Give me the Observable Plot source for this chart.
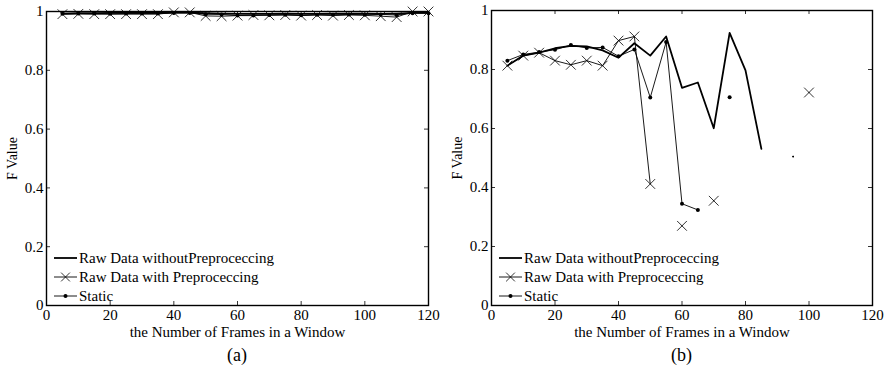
<!DOCTYPE html>
<html><head><meta charset="utf-8">
<script src="https://cdn.jsdelivr.net/npm/d3@7"></script>
<script src="https://cdn.jsdelivr.net/npm/@observablehq/plot@0.6"></script>
<style>
body{margin:0;background:#fff;font-family:"Liberation Serif","Times New Roman",serif;color:#000;}
#wrap{display:flex;width:887px;height:376px;}
.panel{display:flex;flex-direction:column;}
.cap{text-align:center;font-size:18px;line-height:30px;height:30px;}
svg text{font-family:"Liberation Serif","Times New Roman",serif;}
</style></head><body><div id="wrap"></div><script>
const frames = [5,10,15,20,25,30,35,40,45,50,55,60,65,70,75,80,85,90,95,100,105,110,115,120];
const xTicks = [0,20,40,60,80,100,120];
const yTicks = [0,0.2,0.4,0.6,0.8,1];
const xLabel = "the Number of Frames in a Window";
const yLabel = "F Value";
const seriesNames = ["Raw Data withoutPreproceccing","Raw Data with Preproceccing","Static"];

// panel (a)
const aRaw  = [0.993,0.994,0.994,0.995,0.995,0.995,0.995,0.996,0.996,0.994,0.993,0.992,0.992,0.992,0.993,0.992,0.992,0.993,0.993,0.993,0.992,0.993,0.995,0.995];
const aPre  = [0.991,0.992,0.991,0.991,0.991,0.991,0.991,0.997,0.997,0.985,0.984,0.986,0.988,0.987,0.988,0.986,0.988,0.986,0.988,0.987,0.984,0.981,1.0,1.0];
const aStat = [0.992,0.993,0.993,0.992,0.993,0.993,0.993,0.995,0.995,0.991,0.990,0.986,0.986,0.988,0.989,0.987,0.989,0.989,0.990,0.989,0.990,0.988,0.994,0.994];

// panel (b)
const bRaw  = [0.813,0.847,0.857,0.872,0.880,0.878,0.865,0.840,0.889,0.847,0.912,0.738,0.756,0.601,0.924,0.797,0.531,null,0.505,null,null,null,null,null];
const bPre  = [0.813,0.847,0.857,0.830,0.816,0.830,0.813,0.898,0.912,0.412,null,0.270,null,0.355,null,null,null,null,null,0.722,null,null,null,null];
const bStat = [0.830,0.851,0.859,0.867,0.883,0.873,0.875,0.845,0.868,0.705,0.893,0.345,0.324,null,0.706,null,null,null,null,null,null,null,null,null];

function panel(raw, pre, stat, width, marginLeft, marginTop, caption) {
  const height = 340, marginRight = 15, marginBottom = 35;
  const iw = width - marginLeft - marginRight, ih = height - marginTop - marginBottom;
  const rows = frames.map((f, i) => ({f, raw: raw[i], pre: pre[i], stat: stat[i]}));
  const lone = rows.filter((d, i) => d.raw != null && (i === 0 || rows[i-1].raw == null) && (i === rows.length-1 || rows[i+1].raw == null));
  const t = 4;
  const plot = Plot.plot({
    width, height, marginLeft, marginRight, marginTop, marginBottom,
    style: {fontFamily: "'Liberation Serif', 'Times New Roman', serif", fontSize: "15px", color: "#000", background: "#fff", overflow: "visible"},
    x: {domain: [0, 120]},
    y: {domain: [0, 1]},
    marks: [
      Plot.ruleX(xTicks, {x: d => d, insetTop: ih - t, stroke: "#000", strokeWidth: 0.8}),
      Plot.ruleX(xTicks, {x: d => d, insetBottom: ih - t, stroke: "#000", strokeWidth: 0.8}),
      Plot.ruleY(yTicks, {y: d => d, insetRight: iw - t, stroke: "#000", strokeWidth: 0.8}),
      Plot.ruleY(yTicks, {y: d => d, insetLeft: iw - t, stroke: "#000", strokeWidth: 0.8}),
      Plot.axisX({ticks: xTicks, tickSize: 0, tickPadding: 4, tickFormat: d => String(d), fontSize: 15, label: null}),
      Plot.axisX({ticks: [], tickSize: 0, fontSize: 15, label: xLabel, labelAnchor: "center", labelArrow: "none", labelOffset: 31}),
      Plot.axisY({ticks: yTicks, tickSize: 0, tickPadding: 3, tickFormat: d => String(d), fontSize: 15, label: null}),
      Plot.axisY({ticks: [], tickSize: 0, fontSize: 14, label: yLabel, labelAnchor: "center", labelArrow: "none", labelOffset: 39}),
      Plot.line(rows, {x: "f", y: "raw", stroke: "#000", strokeWidth: 1.8}),
      Plot.dot(lone, {x: "f", y: "raw", r: 0.8, fill: "#000"}),
      Plot.line(rows, {x: "f", y: "pre", stroke: "#000", strokeWidth: 0.9}),
      Plot.dot(rows.filter(d => d.pre != null), {x: "f", y: "pre", symbol: "times", r: 4.5, stroke: "#000", strokeWidth: 0.8}),
      Plot.line(rows, {x: "f", y: "stat", stroke: "#000", strokeWidth: 0.9}),
      Plot.dot(rows.filter(d => d.stat != null), {x: "f", y: "stat", r: 2, fill: "#000"}),
      Plot.frame({stroke: "#000", strokeWidth: 1.4})
    ]
  });
  // legend inside lower-left
  const svg = d3.select(plot);
  const g = svg.append("g").attr("font-size", 15).attr("text-anchor", "start");
  const x0 = marginLeft + 8, x1 = marginLeft + 31;
  seriesNames.forEach((name, i) => {
    const y = 258 + 19 * i;
    g.append("line").attr("x1", x0).attr("x2", x1).attr("y1", y).attr("y2", y).attr("stroke", "#000").attr("stroke-width", i === 0 ? 1.8 : 0.9);
    const cx = (x0 + x1) / 2;
    if (i === 1) {
      g.append("path").attr("d", `M${cx-4.4},${y-4.4}L${cx+4.4},${y+4.4}M${cx-4.4},${y+4.4}L${cx+4.4},${y-4.4}`).attr("stroke", "#000").attr("stroke-width", 0.8);
    }
    if (i === 2) g.append("circle").attr("cx", cx).attr("cy", y).attr("r", 2).attr("fill", "#000");
    g.append("text").attr("x", x1 + 2).attr("y", y).attr("dy", "0.35em").text(name);
  });
  const div = document.createElement("div");
  div.className = "panel";
  div.appendChild(plot);
  const cap = document.createElement("div");
  cap.className = "cap";
  cap.style.width = width + "px";
  cap.style.paddingLeft = (marginLeft - marginRight) + "px";
  cap.style.boxSizing = "border-box";
  cap.textContent = caption;
  div.appendChild(cap);
  return div;
}

const wrap = document.getElementById("wrap");
wrap.appendChild(panel(aRaw, aPre, aStat, 443, 46, 11, "(a)"));
wrap.appendChild(panel(bRaw, bPre, bStat, 444, 48, 10, "(b)"));
</script></body></html>
